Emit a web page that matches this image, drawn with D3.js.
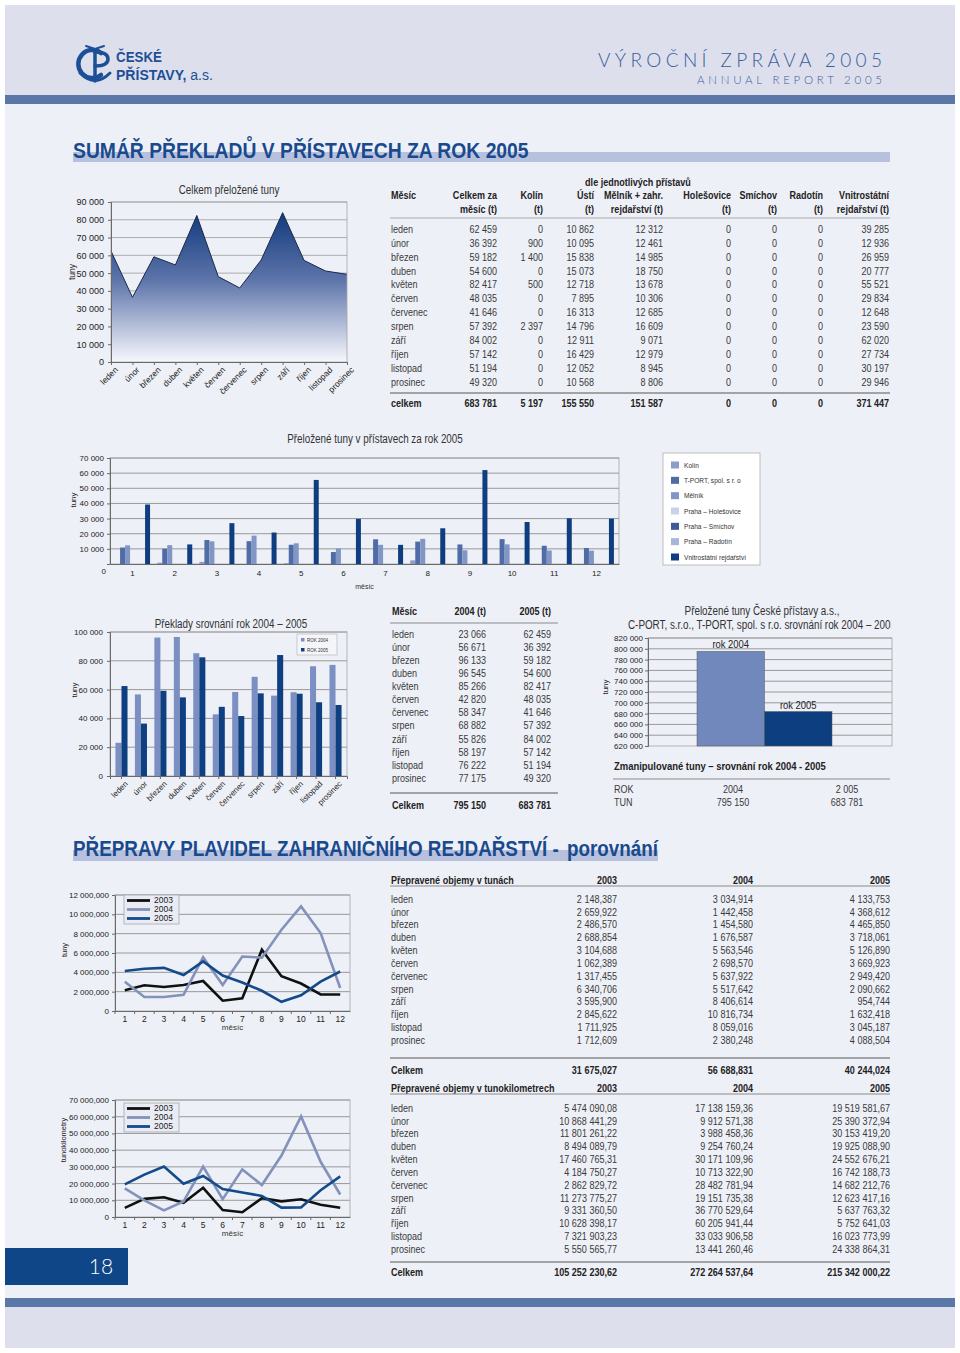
<!DOCTYPE html>
<html><head><meta charset="utf-8">
<script src="https://cdn.jsdelivr.net/npm/d3@7"></script>
<style>body{margin:0;background:#fff}</style>
</head><body>
<svg id="page" width="960" height="1353"></svg>
<script>
// ---------------- DATA ----------------
const months = ["leden","únor","březen","duben","květen","červen","červenec","srpen","září","říjen","listopad","prosinec"];
const monthNums = [1,2,3,4,5,6,7,8,9,10,11,12];
const celkem2005 = [62459,36392,59182,54600,82417,48035,41646,57392,84002,57142,51194,49320];
const kolin = [0,900,1400,0,500,0,0,2397,0,0,0,0];
const usti = [10862,10095,15838,15073,12718,7895,16313,14796,12911,16429,12052,10568];
const melnik = [12312,12461,14985,18750,13678,10306,12685,16609,9071,12979,8945,8806];
const holesovice = [0,0,0,0,0,0,0,0,0,0,0,0];
const smichov = [0,0,0,0,0,0,0,0,0,0,0,0];
const radotin = [0,0,0,0,0,0,0,0,0,0,0,0];
const vnitro = [39285,12936,26959,20777,55521,29834,12648,23590,62020,27734,30197,29946];
const table1Head1 = ["Celkem za","Kolín","Ústí","Mělník + zahr.","Holešovice","Smíchov","Radotín","Vnitrostátní"];
const table1Head2 = ["měsíc (t)","(t)","(t)","rejdařství (t)","(t)","(t)","(t)","rejdařství (t)"];
const table1Totals = ["683 781","5 197","155 550","151 587","0","0","0","371 447"];
const portLegend = ["Kolín","T-PORT, spol. s  r. o","Mělník","Praha – Holešovice","Praha – Smíchov","Praha – Radotín","Vnitrostátní rejdařství"];
const tons2004 = [23066,56671,96133,96545,85266,42820,58347,68882,55826,58197,76222,77175];
const tons2005 = [62459,36392,59182,54600,82417,48035,41646,57392,84002,57142,51194,49320];
const table2Totals = ["795 150","683 781"];
const yearCats = ["rok 2004","rok 2005"];
const yearTotals = [795150,683781];
const yearLabels = ["2004","2 005"];
const yearTotalLabels = ["795 150","683 781"];
const obj2003 = [2148.387,2659.922,2486.570,2688.854,3104.688,1062.389,1317.455,6340.706,3595.900,2845.622,1711.925,1712.609];
const obj2004 = [3034.914,1442.458,1454.580,1676.587,5563.546,2698.570,5637.922,5517.642,8406.614,10816.734,8059.016,2380.248];
const obj2005 = [4133.753,4368.612,4465.850,3718.061,5126.890,3669.923,2949.420,2090.662,954.744,1632.418,3045.187,4088.504];
const objTotals = ["31 675,027","56 688,831","40 244,024"];
const tkm2003 = [5474090.08,10868441.29,11801261.22,8494089.79,17460765.31,4184750.27,2862829.72,11273775.27,9331360.50,10628398.17,7321903.23,5550565.77];
const tkm2004 = [17138159.36,9912571.38,3988458.36,9254760.24,30171109.96,10713322.90,28482781.94,19151735.38,36770529.64,60205941.44,33033906.58,13441260.46];
const tkm2005 = [19519581.67,25390372.94,30153419.20,19925088.90,24552676.21,16742188.73,14682212.76,12623417.16,5637763.32,5752641.03,16023773.99,24338864.31];
const tkmTotals = ["105 252 230,62","272 264 537,64","215 342 000,22"];
const lineYears = ["2003","2004","2005"];
const tkmTickValues = [0,10000000,20000000,30000000,40000000,50000000,60000000,70000000];
const tkmTickLabels = ["0","10 000,000","20 000,000","30 000,000","40 000,000","50 000,000","60 000,000","70 000,000"];

// ---------------- SETUP ----------------
const NARROW = "'Liberation Sans',Arial,sans-serif";   // condensed to 82% => Arial Narrow metrics
const ARIAL = "'Liberation Sans',Arial,sans-serif";
const COND = 0.82;
const loc = d3.formatLocale({decimal:",", thousands:" ", grouping:[3], currency:["",""]});
const fInt = loc.format(",d");
const f3 = loc.format(",.3f");
const f2 = loc.format(",.2f");
const svg = d3.select("#page");
const defs = svg.append("defs");

// scale a text element horizontally so it spans width tl, anchored at (x,y)
function fitWidth(t, x, y, tl) {
  const w = t.node().getComputedTextLength();
  if (w > 0) t.attr("x", 0).attr("y", 0).attr("transform", `translate(${x},${y}) scale(${tl / w},1)`);
  return t;
}
function txt(g, x, y, s, o = {}) {
  const t = g.append("text").attr("x", x).attr("y", y).text(s)
    .attr("font-family", o.ff || NARROW).attr("font-size", o.fs || 10.5)
    .attr("fill", o.fill || "#3a3a3a").attr("text-anchor", o.anchor || "start")
    .attr("font-weight", o.fw || "normal").attr("dy", o.dy === undefined ? "0.35em" : o.dy);
  if (o.tl && o.la === "spacing") t.attr("textLength", o.tl).attr("lengthAdjust", "spacing");
  else if (o.tl && s) fitWidth(t, x, y, o.tl);
  else if (o.cond && s) {
    const w = t.node().getComputedTextLength();
    if (w > 0) t.attr("textLength", w * o.cond).attr("lengthAdjust", "spacingAndGlyphs");
  }
  return t;
}
// narrow-font text helper
function ntxt(g, x, y, s, o = {}) { return txt(g, x, y, s, Object.assign({cond: COND}, o)); }
function hline(g, x1, x2, y, c, w) {
  g.append("line").attr("x1", x1).attr("x2", x2).attr("y1", y).attr("y2", y)
    .attr("stroke", c || "#8a8a8a").attr("stroke-width", w || 1);
}
function styleAxis(ax, fs, ff) {
  ax.select(".domain").attr("stroke", "#6a6a6a");
  ax.selectAll(".tick line").attr("stroke", "#6a6a6a");
  ax.selectAll("text").attr("font-family", ff || ARIAL).attr("font-size", fs).attr("fill", "#222");
}

// ---------------- PAGE BACKGROUND ----------------
svg.append("rect").attr("x",5).attr("y",5).attr("width",950).attr("height",90).attr("fill","#dde0ec");
svg.append("rect").attr("x",5).attr("y",95).attr("width",950).attr("height",9).attr("fill","#5a77a8");
svg.append("rect").attr("x",5).attr("y",104).attr("width",950).attr("height",1194).attr("fill","#eef0f7");
svg.append("rect").attr("x",5).attr("y",1298).attr("width",950).attr("height",9).attr("fill","#5a77a8");
svg.append("rect").attr("x",5).attr("y",1307).attr("width",950).attr("height",41).attr("fill","#dde0ec");

// ---------------- HEADER ----------------
const hdr = svg.append("g");
const logo = hdr.append("g").attr("fill","none").attr("stroke","#1d4f96").attr("stroke-linecap","round");
logo.append("path").attr("d","M101,53 A14,14 0 1 0 101,75").attr("stroke-width",4.5);
logo.append("path").attr("d","M95,50 L95,81").attr("stroke-width",3.5);
logo.append("path").attr("d","M95,52 Q108,52 108,59 Q108,66 95,66").attr("stroke-width",3.5);
logo.append("path").attr("d","M80,73 Q95,88 110,73").attr("stroke-width",3);
logo.append("path").attr("d","M86,46 L95,49 L104,46").attr("stroke-width",2);
txt(hdr,116,57,"ČESKÉ",{fs:15,fw:"bold",fill:"#1d4f96",tl:46});
const lt = txt(hdr,116,75,"",{fs:15,fill:"#1d4f96"});
lt.append("tspan").attr("font-weight","bold").text("PŘÍSTAVY,");
lt.append("tspan").text(" a.s.");
fitWidth(lt,116,75,97);
txt(hdr,598,60,"VÝROČNÍ ZPRÁVA 2005",{ff:"Lato,'Open Sans',"+ARIAL,fs:19,fw:300,fill:"#3a5d9e",tl:284,la:"spacing"});
txt(hdr,697,80,"ANNUAL REPORT 2005",{ff:"Lato,'Open Sans',"+ARIAL,fs:11.5,fw:300,fill:"#3a5d9e",tl:185,la:"spacing"});

// ---------------- SECTION TITLE 1 ----------------
svg.append("rect").attr("x",73).attr("y",152).attr("width",817).attr("height",10).attr("fill","#b7c1dd");
txt(svg,73,150,"SUMÁŘ PŘEKLADŮ V PŘÍSTAVECH ZA ROK 2005",{fs:22,fw:"bold",fill:"#1a4a8e",tl:456});

// ---------------- AREA CHART ----------------
{
  const g = svg.append("g");
  const x = d3.scalePoint().domain(months).range([111,347]);
  const y = d3.scaleLinear().domain([0,90000]).range([362,202]);
  const [x0,x1] = x.range();
  const grad = defs.append("linearGradient").attr("id","gradA").attr("gradientUnits","userSpaceOnUse")
    .attr("x1",0).attr("x2",0).attr("y1",y(d3.max(celkem2005))).attr("y2",y(0));
  grad.append("stop").attr("offset",0).attr("stop-color","#123a7c");
  grad.append("stop").attr("offset",0.45).attr("stop-color","#5d74aa");
  grad.append("stop").attr("offset",1).attr("stop-color","#f7f8fc");
  g.selectAll(".gl").data(y.ticks(9).filter(d=>d>0)).join("line")
    .attr("x1",x0).attr("x2",x1).attr("y1",d=>y(d)).attr("y2",d=>y(d)).attr("stroke","#9a9a9a").attr("stroke-width",0.8);
  g.append("path").datum(celkem2005).attr("fill","url(#gradA)")
    .attr("d",d3.area().x((d,i)=>x(months[i])).y0(y(0)).y1(d=>y(d)));
  g.append("path").datum(celkem2005).attr("fill","none").attr("stroke","#1b2947").attr("stroke-width",1)
    .attr("d",d3.line().x((d,i)=>x(months[i])).y(d=>y(d)));
  g.append("rect").attr("x",x0).attr("y",y(90000)).attr("width",x1-x0).attr("height",y(0)-y(90000))
    .attr("fill","none").attr("stroke","#a5a5a5").attr("stroke-width",0.8);
  const ay = g.append("g").attr("transform",`translate(${x0},0)`)
    .call(d3.axisLeft(y).tickValues(d3.range(0,90001,10000)).tickFormat(fInt).tickSize(3).tickPadding(4));
  styleAxis(ay,9);
  const ax = g.append("g").attr("transform",`translate(0,${y(0)})`).call(d3.axisBottom(x).tickSize(3));
  styleAxis(ax,8.5);
  ax.selectAll("text").attr("y",8).attr("dy","0.35em").attr("dx","-1").attr("text-anchor","end").attr("transform","rotate(-45)");
  ntxt(g,229,190,"Celkem přeložené tuny",{fs:12,fill:"#333",anchor:"middle"});
  txt(g,0,0,"tuny",{ff:ARIAL,fs:8.5,fill:"#222",anchor:"middle"}).attr("transform","translate(72,272) rotate(-90)");
}

// ---------------- TABLE 1 ----------------
{
  const g = svg.append("g");
  const right = [497,543,594,663,731,777,823,889];
  const series = [celkem2005,kolin,usti,melnik,holesovice,smichov,radotin,vnitro];
  const ry = d3.scalePoint().domain(months).range([229,382]);
  const H = {fs:11,fw:"bold",fill:"#222"};
  ntxt(g,638,182,"dle jednotlivých přístavů",H).attr("text-anchor","middle");
  ntxt(g,391,195,"Měsíc",H);
  table1Head1.forEach((h,i)=>ntxt(g,right[i],195,h,Object.assign({anchor:"end"},H)));
  table1Head2.forEach((h,i)=>ntxt(g,right[i],209,h,Object.assign({anchor:"end"},H)));
  hline(g,390,890,218,"#9a9a9a",0.8);
  months.forEach((m,r)=>{
    ntxt(g,391,ry(m),m,{fs:11});
    series.forEach((s,i)=>ntxt(g,right[i],ry(m),fInt(s[r]),{fs:11,anchor:"end"}));
  });
  hline(g,390,890,393,"#8a8a8a",1.5);
  ntxt(g,391,403,"celkem",H);
  table1Totals.forEach((v,i)=>ntxt(g,right[i],403,v,Object.assign({anchor:"end"},H)));
}

// ---------------- PORT BAR CHART ----------------
{
  const g = svg.append("g");
  const series = [kolin,usti,melnik,holesovice,smichov,radotin,vnitro];
  const colors = ["#8d9dc5","#4f6ca6","#8296c6","#c9d3e8","#3c5c98","#a7b5d6","#0f3e80"];
  const x0 = d3.scaleBand().domain(monthNums).range([110,619]).paddingInner(0.17).paddingOuter(0.12);
  const x1 = d3.scaleBand().domain(d3.range(series.length)).range([0,x0.bandwidth()]);
  const y = d3.scaleLinear().domain([0,70000]).range([564,458]);
  const [L,R] = x0.range();
  g.selectAll(".gl").data(d3.range(10000,70001,10000)).join("line")
    .attr("x1",L).attr("x2",R).attr("y1",d=>y(d)).attr("y2",d=>y(d)).attr("stroke","#8f8f8f").attr("stroke-width",0.9);
  g.append("rect").attr("x",L).attr("y",y(70000)).attr("width",R-L).attr("height",y(0)-y(70000))
    .attr("fill","none").attr("stroke","#a5a5a5").attr("stroke-width",0.8);
  monthNums.forEach((m,mi)=>{
    series.forEach((s,si)=>{
      g.append("rect").attr("x",x0(m)+x1(si)).attr("width",x1.bandwidth()).attr("y",y(s[mi]))
        .attr("height",y(0)-y(s[mi])).attr("fill",colors[si]);
    });
  });
  const ay = g.append("g").attr("transform",`translate(${L},0)`)
    .call(d3.axisLeft(y).tickValues(d3.range(10000,70001,10000)).tickFormat(fInt).tickSize(3).tickPadding(3));
  styleAxis(ay,8);
  txt(g,L-4,y(0)+7,"0",{ff:ARIAL,fs:8,fill:"#222",anchor:"end"});
  const ax = g.append("g").attr("transform",`translate(0,${y(0)})`).call(d3.axisBottom(x0).tickSize(0).tickPadding(6));
  styleAxis(ax,8);
  txt(g,(L+R)/2,587,"měsíc",{ff:ARIAL,fs:7,fill:"#333",anchor:"middle"});
  ntxt(g,375,439,"Přeložené tuny v přístavech za rok 2005",{fs:12,fill:"#333",anchor:"middle"});
  txt(g,0,0,"tuny",{ff:ARIAL,fs:8,fill:"#222",anchor:"middle"}).attr("transform","translate(73,500) rotate(-90)");
  // legend
  const lg = g.append("g");
  lg.append("rect").attr("x",663).attr("y",453).attr("width",97).attr("height",112).attr("fill","#ffffff").attr("stroke","#b0b0b0").attr("stroke-width",0.8);
  const ly = d3.scalePoint().domain(portLegend).range([465,557]);
  portLegend.forEach((n,i)=>{
    lg.append("rect").attr("x",671).attr("y",ly(n)-3.5).attr("width",8).attr("height",7).attr("fill",colors[i]);
    ntxt(lg,684,ly(n),n,{fs:8,fill:"#333"});
  });
}

// ---------------- 2004 vs 2005 BAR CHART ----------------
{
  const g = svg.append("g");
  const x0 = d3.scaleBand().domain(months).range([110,347]).paddingInner(0.38).paddingOuter(0.28);
  const x1 = d3.scaleBand().domain([0,1]).range([0,x0.bandwidth()]);
  const y = d3.scaleLinear().domain([0,100000]).range([776,632]);
  const [L,R] = x0.range();
  const colors = ["#7b8fc2","#0e3f80"];
  g.selectAll(".gl").data(d3.range(20000,100001,20000)).join("line")
    .attr("x1",L).attr("x2",R).attr("y1",d=>y(d)).attr("y2",d=>y(d)).attr("stroke","#8f8f8f").attr("stroke-width",0.9);
  g.append("rect").attr("x",L).attr("y",y(100000)).attr("width",R-L).attr("height",y(0)-y(100000))
    .attr("fill","none").attr("stroke","#a5a5a5").attr("stroke-width",0.8);
  [tons2004,tons2005].forEach((s,si)=>{
    g.selectAll(".b"+si).data(s).join("rect").attr("x",(d,i)=>x0(months[i])+x1(si)).attr("width",x1.bandwidth())
      .attr("y",d=>y(d)).attr("height",d=>y(0)-y(d)).attr("fill",colors[si]);
  });
  const ay = g.append("g").attr("transform",`translate(${L},0)`)
    .call(d3.axisLeft(y).tickValues(d3.range(0,100001,20000)).tickFormat(fInt).tickSize(3).tickPadding(4));
  styleAxis(ay,8);
  const ax = g.append("g").attr("transform",`translate(0,${y(0)})`).call(d3.axisBottom(x0).tickSize(3));
  styleAxis(ax,8);
  ax.selectAll("text").attr("y",8).attr("dy","0.35em").attr("dx","-1").attr("text-anchor","end").attr("transform","rotate(-45)");
  ntxt(g,231,624,"Překlady srovnání rok 2004 – 2005",{fs:12,fill:"#333",anchor:"middle"});
  txt(g,0,0,"tuny",{ff:ARIAL,fs:8,fill:"#222",anchor:"middle"}).attr("transform","translate(74,690) rotate(-90)");
  const lg = g.append("g");
  lg.append("rect").attr("x",297).attr("y",634).attr("width",40).attr("height",21).attr("fill","#f4f5f9").attr("stroke","#b0b0b0").attr("stroke-width",0.6);
  ["ROK 2004","ROK 2005"].forEach((n,i)=>{
    lg.append("rect").attr("x",301).attr("y",638+i*10).attr("width",3.5).attr("height",3.5).attr("fill",colors[i]);
    txt(lg,307,640+i*10,n,{ff:ARIAL,fs:4.5,fill:"#333"});
  });
}

// ---------------- TABLE 2 ----------------
{
  const g = svg.append("g");
  const ry = d3.scalePoint().domain(months).range([634,778]);
  const H = {fs:11,fw:"bold",fill:"#222"};
  ntxt(g,392,611,"Měsíc",H);
  ntxt(g,486,611,"2004 (t)",Object.assign({anchor:"end"},H));
  ntxt(g,551,611,"2005 (t)",Object.assign({anchor:"end"},H));
  hline(g,390,558,623,"#8a8a8a",1);
  months.forEach((m,i)=>{
    ntxt(g,392,ry(m),m,{fs:11});
    ntxt(g,486,ry(m),fInt(tons2004[i]),{fs:11,anchor:"end"});
    ntxt(g,551,ry(m),fInt(tons2005[i]),{fs:11,anchor:"end"});
  });
  hline(g,390,558,793,"#8a8a8a",1.5);
  ntxt(g,392,805,"Celkem",H);
  ntxt(g,486,805,table2Totals[0],Object.assign({anchor:"end"},H));
  ntxt(g,551,805,table2Totals[1],Object.assign({anchor:"end"},H));
}

// ---------------- YEAR TOTAL BAR CHART ----------------
{
  const g = svg.append("g");
  const x = d3.scaleBand().domain(yearCats).range([697,832]).padding(0);
  const y = d3.scaleLinear().domain([620000,820000]).range([746,638]);
  const L = 648, R = 892;
  const colors = ["#7088bb","#0d3f80"];
  g.selectAll(".gl").data(d3.range(640000,820001,20000)).join("line")
    .attr("x1",L).attr("x2",R).attr("y1",d=>y(d)).attr("y2",d=>y(d)).attr("stroke","#8f8f8f").attr("stroke-width",0.9);
  g.append("rect").attr("x",L).attr("y",y(820000)).attr("width",R-L).attr("height",y(620000)-y(820000))
    .attr("fill","none").attr("stroke","#a5a5a5").attr("stroke-width",0.8);
  g.selectAll(".yb").data(yearTotals).join("rect").attr("x",(d,i)=>x(yearCats[i])).attr("width",x.bandwidth())
    .attr("y",d=>y(d)).attr("height",d=>y(620000)-y(d)).attr("fill",(d,i)=>colors[i]).attr("stroke","#555").attr("stroke-width",0.5);
  yearTotals.forEach((v,i)=>ntxt(g,x(yearCats[i])+x.bandwidth()/2,y(v)-7,yearCats[i],{fs:11.5,fill:"#222",anchor:"middle"}));
  const ay = g.append("g").attr("transform",`translate(${L},0)`)
    .call(d3.axisLeft(y).tickValues(d3.range(620000,820001,20000)).tickFormat(fInt).tickSize(3).tickPadding(2));
  styleAxis(ay,8);
  txt(g,0,0,"tuny",{ff:ARIAL,fs:8,fill:"#222",anchor:"middle"}).attr("transform","translate(605,687) rotate(-90)");
  defs.append("clipPath").attr("id","clipT").append("rect").attr("x",560).attr("y",590).attr("width",331).attr("height",50);
  const tg = g.append("g").attr("clip-path","url(#clipT)");
  ntxt(tg,762,611,"Přeložené tuny České přístavy a.s.,",{fs:12,fill:"#333",anchor:"middle"});
  ntxt(tg,762,625,"C-PORT, s.r.o., T-PORT, spol. s r.o. srovnání rok 2004 – 2005",{fs:12,fill:"#333",anchor:"middle"});
  ntxt(g,614,766,"Zmanipulované tuny – srovnání rok 2004 - 2005",{fs:11.5,fw:"bold",fill:"#222"});
  hline(g,613,890,779,"#8a8a8a",1);
  ntxt(g,614,789,"ROK",{fs:11});
  ntxt(g,614,802,"TUN",{fs:11});
  [733,847].forEach((cx,i)=>{
    ntxt(g,cx,789,yearLabels[i],{fs:11,anchor:"middle"});
    ntxt(g,cx,802,yearTotalLabels[i],{fs:11,anchor:"middle"});
  });
}

// ---------------- SECTION TITLE 2 ----------------
svg.append("rect").attr("x",73).attr("y",850).attr("width",585).attr("height",11).attr("fill","#b7c1dd");
txt(svg,73,848,"PŘEPRAVY PLAVIDEL ZAHRANIČNÍHO REJDAŘSTVÍ -",{fs:22,fw:"bold",fill:"#1a4a8e",tl:486});
txt(svg,567,848,"porovnání",{fs:22,fw:"bold",fill:"#1a4a8e",tl:91});

// ---------------- LINE CHARTS ----------------
function lineChart(cfg) {
  const g = svg.append("g");
  const x = d3.scaleBand().domain(monthNums).range([115,350]);
  const y = d3.scaleLinear().domain([0,cfg.max]).range(cfg.yr);
  const [L,R] = x.range();
  const colors = ["#111111","#8292ba","#134a8a"];
  g.selectAll(".gl").data(cfg.ticks.filter(d=>d>0)).join("line")
    .attr("x1",L).attr("x2",R).attr("y1",d=>y(d)).attr("y2",d=>y(d)).attr("stroke","#8f8f8f").attr("stroke-width",0.9);
  g.append("rect").attr("x",L).attr("y",y(cfg.max)).attr("width",R-L).attr("height",y(0)-y(cfg.max))
    .attr("fill","none").attr("stroke","#a5a5a5").attr("stroke-width",0.8);
  const ay = g.append("g").attr("transform",`translate(${L},0)`)
    .call(d3.axisLeft(y).tickValues(cfg.ticks).tickFormat((d,i)=>cfg.labels[i]).tickSize(3).tickPadding(3));
  styleAxis(ay,8);
  const ax = g.append("g").attr("transform",`translate(0,${y(0)})`).call(d3.axisBottom(x).tickSize(0).tickPadding(5));
  styleAxis(ax,8.5);
  x.domain().forEach(m=>g.append("line").attr("x1",x(m)).attr("x2",x(m)).attr("y1",y(0)).attr("y2",y(0)+3).attr("stroke","#6a6a6a"));
  txt(g,(L+R)/2,y(0)+cfg.mOff,"měsíc",{ff:ARIAL,fs:8,fill:"#333",anchor:"middle"});
  txt(g,0,0,cfg.ylab,{ff:ARIAL,fs:7.5,fill:"#222",anchor:"middle"}).attr("transform",`translate(${cfg.ylabX},${cfg.ylabY}) rotate(-90)`);
  cfg.series.forEach((s,si)=>{
    g.append("path").datum(s).attr("fill","none").attr("stroke",colors[si]).attr("stroke-width",2.6).attr("stroke-linejoin","miter")
      .attr("d",d3.line().x((d,i)=>x(monthNums[i])+x.bandwidth()/2).y(d=>y(d)));
  });
  const lg = g.append("g");
  lg.append("rect").attr("x",124).attr("y",cfg.lgY).attr("width",55).attr("height",29).attr("fill","#e9ecf4").attr("stroke","#a8a8a8").attr("stroke-width",0.8);
  lineYears.forEach((n,i)=>{
    const yy = cfg.lgY+5.5+i*9;
    lg.append("line").attr("x1",127).attr("x2",150).attr("y1",yy).attr("y2",yy).attr("stroke",colors[i]).attr("stroke-width",2.8);
    txt(lg,154,yy,n,{ff:ARIAL,fs:8.5,fill:"#222"});
  });
}
lineChart({max:12000, yr:[1011,895], ticks:d3.range(0,12001,2000),
  labels:d3.range(0,12001,2000).map(d=>d===0?"0":f3(d)),
  series:[obj2003,obj2004,obj2005], ylab:"tuny", ylabX:64, ylabY:950, lgY:895, mOff:16});
lineChart({max:70000000, yr:[1217,1100], ticks:tkmTickValues, labels:tkmTickLabels,
  series:[tkm2003,tkm2004,tkm2005], ylab:"tunokilometry", ylabX:63, ylabY:1140, lgY:1103, mOff:16});

// ---------------- TABLES 3 & 4 ----------------
function bigTable(cfg) {
  const g = svg.append("g");
  const right = [617,753,890];
  const ry = d3.scalePoint().domain(months).range(cfg.rows);
  const H = {fs:11,fw:"bold",fill:"#222"};
  ntxt(g,391,cfg.hy,cfg.title,H);
  lineYears.forEach((yv,i)=>ntxt(g,right[i],cfg.hy,yv,Object.assign({anchor:"end"},H)));
  hline(g,390,890,cfg.l1,"#8a8a8a",1);
  months.forEach((m,r)=>{
    ntxt(g,391,ry(m),m,{fs:11});
    cfg.series.forEach((s,i)=>ntxt(g,right[i],ry(m),cfg.fmt(s[r]),{fs:11,anchor:"end"}));
  });
  hline(g,390,890,cfg.l2,"#8a8a8a",1.5);
  ntxt(g,391,cfg.ty,"Celkem",H);
  cfg.totals.forEach((v,i)=>ntxt(g,right[i],cfg.ty,v,Object.assign({anchor:"end"},H)));
}
bigTable({title:"Přepravené objemy v tunách", hy:880, l1:886, rows:[899,1040], l2:1058, ty:1070,
  series:[obj2003,obj2004,obj2005], fmt:f3, totals:objTotals});
bigTable({title:"Přepravené objemy v tunokilometrech", hy:1088, l1:1094, rows:[1108,1249], l2:1262, ty:1272,
  series:[tkm2003,tkm2004,tkm2005], fmt:f2, totals:tkmTotals});

// ---------------- PAGE NUMBER ----------------
svg.append("rect").attr("x",5).attr("y",1248).attr("width",123).attr("height",37).attr("fill","#0f4687");
txt(svg,101,1267,"18",{ff:"Lato,'Open Sans',"+ARIAL,fs:21,fw:300,fill:"#ffffff",anchor:"middle"});
</script>
</body></html>
